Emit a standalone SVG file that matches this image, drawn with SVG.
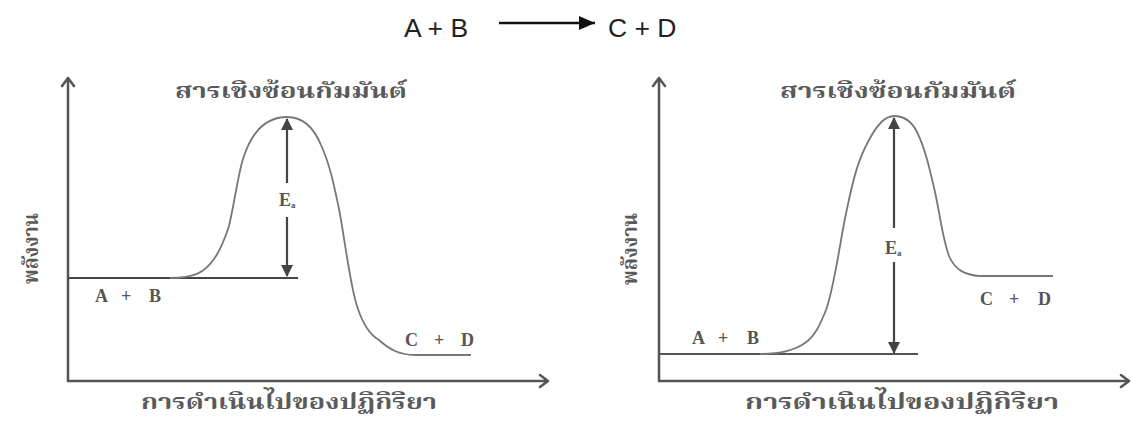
<svg xmlns="http://www.w3.org/2000/svg" width="1131" height="421" viewBox="0 0 1131 421">
<defs>
<marker id="ea" viewBox="0 0 12 12" refX="11" refY="6" markerWidth="12" markerHeight="12" markerUnits="userSpaceOnUse" orient="auto-start-reverse">
<path d="M0,0 L12,6 L0,12 z" fill="#444"/>
</marker>
<marker id="eq" viewBox="0 0 16 14" refX="16" refY="7" markerWidth="16" markerHeight="14" markerUnits="userSpaceOnUse" orient="auto">
<path d="M0,0 L16,7 L0,14 z" fill="#111"/>
</marker>
</defs>
<style>
.ax{fill:none;stroke:#555;stroke-width:2.5;stroke-linecap:round;stroke-linejoin:round}
.base{fill:none;stroke:#444;stroke-width:2.2}
.curve{fill:none;stroke:#777;stroke-width:1.8}
.eaarrow{fill:none;stroke:#444;stroke-width:2.2}
.lab{font-family:"Liberation Serif","DejaVu Serif",serif;font-size:18px;fill:#555;font-weight:bold}
.th{font-family:"Noto Serif Thai","Norasi","Loma","Garuda","Noto Sans Thai Looped","Noto Sans Thai","Noto Sans","DejaVu Sans",sans-serif;fill:#5a5a5a;font-weight:bold}
.eq{font-family:"Liberation Sans",Arial,sans-serif;font-size:26.5px;fill:#222}
</style>
<g id="equation">
<text class="eq" x="404" y="37">A + B</text>
<line x1="499" y1="23" x2="595" y2="23" stroke="#111" stroke-width="2.5" marker-end="url(#eq)"/>
<text class="eq" x="608" y="37">C + D</text>
</g>
<g id="left-chart">
<path class="ax" d="M68,381 L68,78 M62,86 L68,78 L74,86"/>
<path class="ax" d="M68,381 L548,381 M540,375 L548,381 L540,387"/>
<line class="base" x1="68" y1="278" x2="298" y2="278"/>
<path class="curve" d="M170,278 C195,278 205,272 214,259 C222,248 226,235 229,226 C235,200 238,175 243,159 C252,130 268,117 287,117 C303,117 314,128 321,145 C330,165 334,185 339,209 C345,240 350,285 357,306 C363,325 370,335 379,340 C390,350 400,355 415,355 L471,355"/>
<text class="th" x="175" y="98" font-size="22" textLength="232" lengthAdjust="spacingAndGlyphs">สารเชิงซ้อนกัมมันต์</text>
<text class="lab"><tspan x="95" y="302">A</tspan><tspan x="121" y="302">+</tspan><tspan x="149" y="302">B</tspan></text>
<text class="lab"><tspan x="405" y="346">C</tspan><tspan x="434" y="346">+</tspan><tspan x="461" y="346">D</tspan></text>
<text class="th" x="141" y="409" font-size="21" textLength="296" lengthAdjust="spacingAndGlyphs">การดำเนินไปของปฏิกิริยา</text>
<text class="th" x="38" y="284" font-size="22" transform="rotate(-90 38 284)" textLength="71" lengthAdjust="spacingAndGlyphs">พลังงาน</text>
</g>
<g id="left-ea">
<line class="eaarrow" x1="287" y1="183" x2="287" y2="119" marker-end="url(#ea)"/>
<line class="eaarrow" x1="287" y1="217" x2="287" y2="276" marker-end="url(#ea)"/>
<text class="lab" x="279" y="206" font-size="17">E<tspan font-size="9" dy="2">a</tspan></text>
</g>
<g id="right-chart">
<path class="ax" d="M659,381 L659,78 M653,86 L659,78 L665,86"/>
<path class="ax" d="M659,381 L1129,381 M1121,375 L1129,381 L1121,387"/>
<line class="curve" x1="659" y1="354" x2="918" y2="354" style="stroke:#555;stroke-width:1.8"/>
<path class="curve" d="M760,354 C780,354 795,350 805,343 C815,336 820,325 826,310 C835,285 840,240 847,209 C853,180 858,160 868,142 C875,128 884,116 894,116 C905,116 912,122 917,132 C925,148 930,170 935,192 C940,215 943,240 949,256 C955,270 965,275 980,276 L1053,276"/>
<text class="th" x="780" y="98" font-size="22" textLength="236" lengthAdjust="spacingAndGlyphs">สารเชิงซ้อนกัมมันต์</text>
<text class="lab"><tspan x="692" y="344">A</tspan><tspan x="718" y="344">+</tspan><tspan x="747" y="344">B</tspan></text>
<text class="lab"><tspan x="980" y="305">C</tspan><tspan x="1009" y="305">+</tspan><tspan x="1038" y="305">D</tspan></text>
<text class="th" x="745" y="409" font-size="21" textLength="314" lengthAdjust="spacingAndGlyphs">การดำเนินไปของปฏิกิริยา</text>
<text class="th" x="637" y="285" font-size="22" transform="rotate(-90 637 285)" textLength="72" lengthAdjust="spacingAndGlyphs">พลังงาน</text>
</g>
<g id="right-ea">
<line class="eaarrow" x1="894" y1="228" x2="894" y2="118" marker-end="url(#ea)"/>
<line class="eaarrow" x1="894" y1="262" x2="894" y2="353" marker-end="url(#ea)"/>
<text class="lab" x="885" y="254" font-size="17">E<tspan font-size="9" dy="2">a</tspan></text>
</g>
</svg>
